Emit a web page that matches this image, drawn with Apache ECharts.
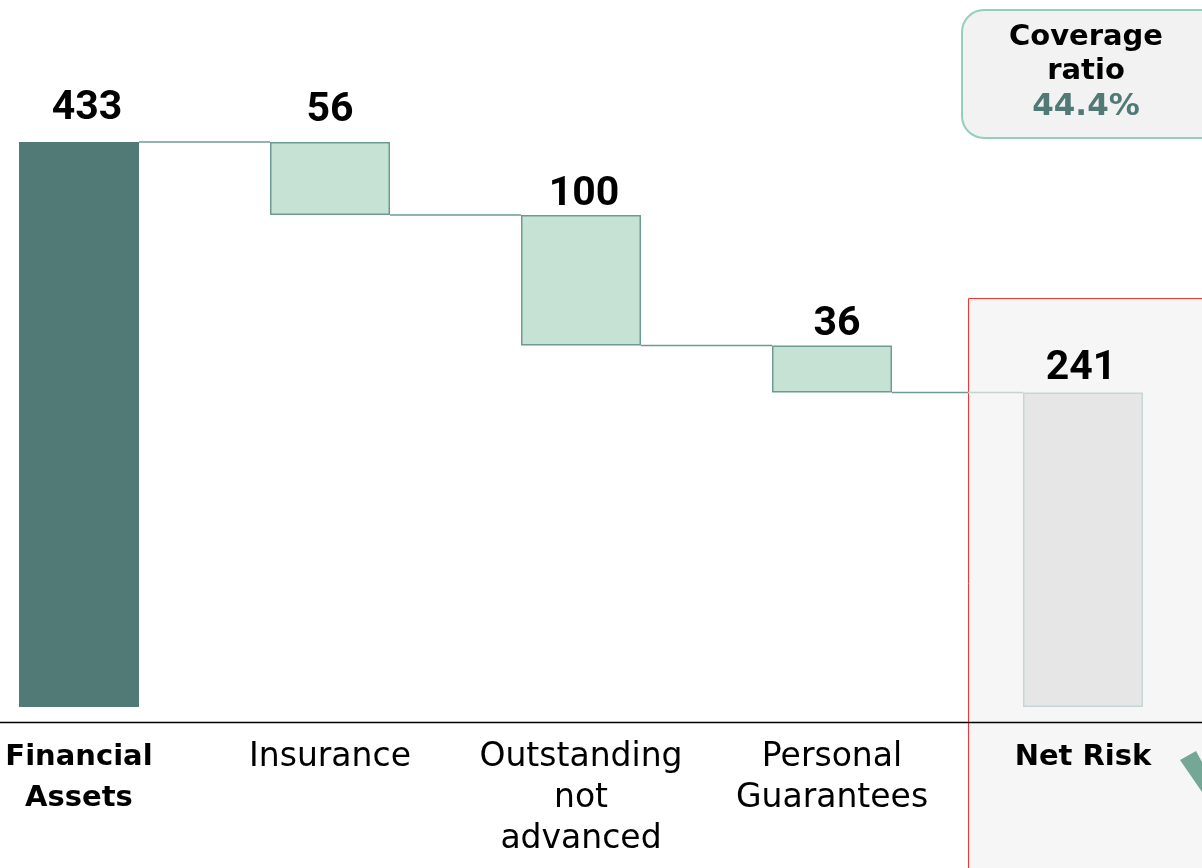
<!DOCTYPE html>
<html><head><meta charset="utf-8">
<script src="https://cdn.jsdelivr.net/npm/echarts@6/dist/echarts.min.js"></script>
<style>html,body{margin:0;padding:0;background:#fff}#c{width:1202px;height:868px}</style>
</head><body><div id="c"></div>
<script>
const categories = ['Financial\nAssets', 'Insurance', 'Outstanding\nnot\nadvanced', 'Personal\nGuarantees', 'Net Risk'];
const boldCats = [true, false, false, false, true];
const baseValues = [0, 377, 277, 241, 0];
const stepValues = [433, 56, 100, 36, 241];
const connectorLevels = [433, 377, 277, 241];
const coverageLines = ['Coverage', 'ratio', '44.4%'];

const TEAL = '#517a77', LIGHT = '#c5e2d5', EDGE = '#6f9a94';
const FONT = 'DejaVu Sans';
const chart = echarts.init(document.getElementById('c'));
const stepColors = [TEAL, LIGHT, LIGHT, LIGHT, '#e6e6e6'];
const stepBorders = [TEAL, EDGE, EDGE, EDGE, '#c5d6d6'];
const labelStyle = [
  {distance: 13, offset: [8, 0]},
  {distance: 11, offset: [0, 0]},
  {distance: 0, offset: [3, 0]},
  {distance: 0, offset: [5, 0]},
  {distance: 3, offset: [-2, 0]}
];

chart.setOption({
  animation: false,
  grid: {left: -46.5, right: -6.5, top: 54.5, bottom: 146, containLabel: false, outerBoundsMode: 'none'},
  xAxis: {
    type: 'category',
    data: categories.map((c, i) => ({value: c, textStyle: boldCats[i] ? {fontWeight: 'bold', fontSize: 29} : {fontWeight: 'normal', fontSize: 33}})),
    axisLine: {onZero: false, lineStyle: {color: '#000', width: 1.3}},
    axisTick: {show: false},
    axisLabel: {interval: 0, margin: 15, fontSize: 31, lineHeight: 41, color: '#000', fontFamily: FONT}
  },
  yAxis: {type: 'value', min: -11.5, max: 500, show: false, splitLine: {show: false}},
  graphic: [
    {type: 'rect', z: -10, shape: {x: 968.5, y: 298.5, width: 400, height: 700},
     style: {fill: '#f6f6f6', stroke: '#ff3030', lineWidth: 1}},
    {type: 'rect', z: 10, shape: {x: 962, y: 10, width: 300, height: 128, r: 22},
     style: {fill: '#f2f2f2', stroke: '#92d0b8', lineWidth: 2}},
    {type: 'text', z: 11, style: {x: 1086, y: 37, text: coverageLines[0], align: 'center', verticalAlign: 'middle', font: 'bold 29px "DejaVu Sans"', fill: '#000'}},
    {type: 'text', z: 11, style: {x: 1086, y: 71, text: coverageLines[1], align: 'center', verticalAlign: 'middle', font: 'bold 29px "DejaVu Sans"', fill: '#000'}},
    {type: 'text', z: 11, style: {x: 1086, y: 107, text: coverageLines[2], align: 'center', verticalAlign: 'middle', font: 'bold 31px "DejaVu Sans"', fill: TEAL}},
    {type: 'polygon', z: 5, shape: {points: [[1180, 760], [1196, 751], [1202, 762], [1202, 792]]}, style: {fill: '#74a796'}}
  ],
  series: [
    {type: 'bar', stack: 'w', barWidth: 120, silent: true, data: baseValues,
     itemStyle: {color: 'transparent'}},
    {type: 'bar', stack: 'w', barWidth: 120,
     data: stepValues.map((v, i) => ({value: v,
       itemStyle: {color: stepColors[i], borderColor: stepBorders[i], borderWidth: 1.5},
       label: labelStyle[i]})),
     label: {show: true, position: 'top', distance: 14, fontSize: 41, fontWeight: 'bold', fontFamily: 'Roboto', color: '#000'}},
    {type: 'custom', z: 1,
     data: connectorLevels.map((v, i) => [i, v]),
     renderItem: function (params, api) {
       const i = api.value(0), v = api.value(1);
       const a = api.coord([i, v]), b = api.coord([i + 1, v]);
       const x1 = a[0] + 60, x2 = b[0] - 60;
       let stroke = EDGE;
       if (i === connectorLevels.length - 1) {
         const s = Math.max(0, Math.min(1, (968 - x1) / (x2 - x1)));
         stroke = new echarts.graphic.LinearGradient(0, 0, 1, 0, [
           {offset: 0, color: EDGE}, {offset: s, color: EDGE}, {offset: s, color: '#c3d4d2'}, {offset: 1, color: '#c3d4d2'}]);
       }
       return {type: 'line', shape: {x1: x1, y1: a[1], x2: x2, y2: a[1]}, style: {stroke: stroke, lineWidth: 1.5}};
     }}
  ]
});
</script></body></html>
